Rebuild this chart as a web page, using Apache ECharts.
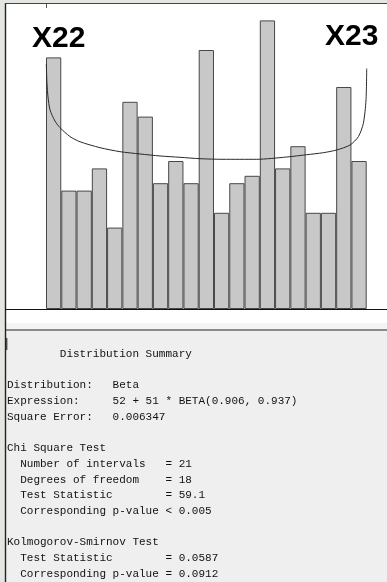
<!DOCTYPE html>
<html>
<head>
<meta charset="utf-8">
<title>X22–X23 Beta fit</title>
<script src="https://cdn.jsdelivr.net/npm/echarts@6/dist/echarts.min.js"></script>
<style>
  html, body { margin: 0; padding: 0; background: #e4e7e1; }
  #chart { width: 387px; height: 582px; }
</style>
</head>
<body>
<div id="chart"></div>
<script>
// Histogram bins (21 intervals between 52 and 103) and their observed counts
const binLabels = ['1','2','3','4','5','6','7','8','9','10','11','12','13','14','15','16','17','18','19','20','21'];
const binCounts = [34, 16, 16, 19, 11, 28, 26, 17, 20, 17, 35, 13, 17, 18, 39, 19, 22, 13, 13, 30, 20];

// Fitted Beta density, scaled to counts per interval
const curveX = [52.05, 52.16, 52.32, 52.64, 53.43, 54.23, 55.82, 57.41, 60.59, 63.77, 66.95, 70.13, 73.31,
                76.49, 80.15, 85.51, 90.28, 93.46, 96.10, 98.23, 100.35, 101.67, 102.47, 102.89, 103.0];
const curveY = [33.1, 30.4, 28.65, 26.9, 25.4, 24.5, 23.3, 22.6, 21.8, 21.26, 20.95, 20.68, 20.5,
                20.31, 20.23, 20.23, 20.54, 20.85, 21.12, 21.49, 22.16, 23.28, 25.09, 28.24, 32.5];

// Range of the fitted distribution
const xMin = 52;
const xMax = 103;

// Labels above the two ends of the histogram
const endLabels = ['X22', 'X23'];

// Distribution summary report
const summaryLines = [
  '        Distribution Summary',
  '',
  'Distribution:   Beta',
  'Expression:     52 + 51 * BETA(0.906, 0.937)',
  'Square Error:   0.006347',
  '',
  'Chi Square Test',
  '  Number of intervals   = 21',
  '  Degrees of freedom    = 18',
  '  Test Statistic        = 59.1',
  '  Corresponding p-value < 0.005',
  '',
  'Kolmogorov-Smirnov Test',
  '  Test Statistic        = 0.0587',
  '  Corresponding p-value = 0.0912'
];

const chart = echarts.init(document.getElementById('chart'), null, { renderer: 'canvas' });

const monoFont = '11px "Courier New", "Liberation Mono", monospace';
const reportText = summaryLines.map((line, i) => ({
  type: 'text',
  left: 7,
  top: 348.5 + i * 15.7,
  z: 50,
  style: { text: line, font: monoFont, fill: '#111' }
}));

const labelFont = 'bold 30px "Liberation Sans", Arial, sans-serif';

const frame = [
  // plot panel
  { type: 'rect', shape: { x: 5, y: 3, width: 382, height: 320 }, style: { fill: '#ffffff' }, z: -20 },
  { type: 'rect', shape: { x: 5, y: 323, width: 382, height: 6 }, style: { fill: '#f4f4f4' }, z: -20 },
  { type: 'rect', shape: { x: 5, y: 329, width: 382, height: 2 }, style: { fill: '#8a8a8a' }, z: -20 },
  // report panel
  { type: 'rect', shape: { x: 5, y: 331, width: 382, height: 251 }, style: { fill: '#efefef' }, z: -20 },
  // borders
  { type: 'line', shape: { x1: 5.5, y1: 3, x2: 5.5, y2: 582 }, style: { stroke: '#222', lineWidth: 1.4 }, z: 60 },
  { type: 'line', shape: { x1: 5, y1: 3.5, x2: 387, y2: 3.5 }, style: { stroke: '#444', lineWidth: 1.2 }, z: 60 },
  { type: 'line', shape: { x1: 5, y1: 309.5, x2: 387, y2: 309.5 }, style: { stroke: '#111', lineWidth: 1.2 }, z: 60 },
  // small tick on top border
  { type: 'line', shape: { x1: 46.5, y1: 4, x2: 46.5, y2: 8 }, style: { stroke: '#555', lineWidth: 1 }, z: 60 },
  // text caret in report panel
  { type: 'line', shape: { x1: 6.8, y1: 338, x2: 6.8, y2: 350 }, style: { stroke: '#111', lineWidth: 1 }, z: 60 },
  // end labels
  { type: 'text', left: 32, top: 24, z: 60, style: { text: endLabels[0], font: labelFont, fill: '#000' } },
  { type: 'text', left: 325, top: 22, z: 60, style: { text: endLabels[1], font: labelFont, fill: '#000' } }
];

chart.setOption({
  animation: false,
  backgroundColor: '#e4e7e1',
  grid: { left: 46, right: 20.3, top: 13, bottom: 273, containLabel: false },
  xAxis: [
    { type: 'category', data: binLabels, boundaryGap: true,
      axisLine: { show: false }, axisTick: { show: false }, axisLabel: { show: false } },
    { type: 'value', min: xMin, max: xMax, show: false }
  ],
  yAxis: { type: 'value', min: 0, max: 40, show: false, splitLine: { show: false } },
  series: [
    {
      type: 'bar',
      xAxisIndex: 0,
      data: binCounts,
      barCategoryGap: '0%',
      itemStyle: { color: '#c8c8c8', borderColor: '#484848', borderWidth: 1 },
      z: 2
    },
    {
      type: 'line',
      xAxisIndex: 1,
      data: curveX.map((x, i) => [x, curveY[i]]),
      smooth: 0.25,
      showSymbol: false,
      lineStyle: { color: '#2a2a2a', width: 1 },
      z: 3
    }
  ],
  graphic: { elements: frame.concat(reportText) }
});
</script>
</body>
</html>
